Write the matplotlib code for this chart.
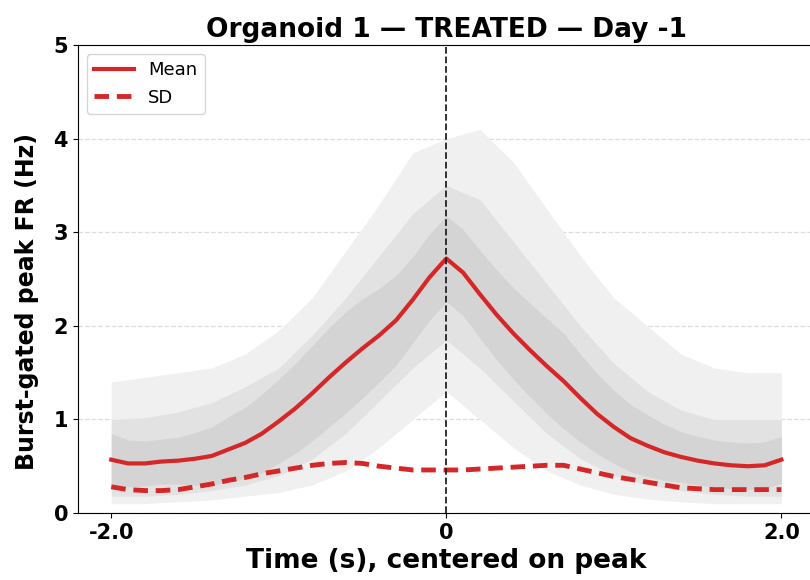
import matplotlib.pyplot as plt
import numpy as np

# time (s) relative to the burst peak, 0.1 s steps
t = [round(-2.0 + 0.1 * i, 1) for i in range(41)]

mean_fr = [0.57, 0.53, 0.53, 0.55, 0.56, 0.58, 0.61, 0.68, 0.75, 0.85,
           0.98, 1.12, 1.28, 1.45, 1.61, 1.76, 1.90, 2.06, 2.28, 2.52,
           2.72,
           2.57, 2.34, 2.12, 1.92, 1.74, 1.57, 1.41, 1.23, 1.06, 0.92,
           0.80, 0.72, 0.65, 0.60, 0.56, 0.53, 0.51, 0.50, 0.51, 0.57]
sd_fr = [0.28, 0.25, 0.24, 0.24, 0.25, 0.28, 0.31, 0.35, 0.38, 0.42,
         0.45, 0.48, 0.51, 0.53, 0.54, 0.53, 0.50, 0.48, 0.46, 0.46,
         0.46,
         0.46, 0.47, 0.48, 0.49, 0.50, 0.51, 0.51, 0.47, 0.43, 0.39,
         0.36, 0.33, 0.30, 0.27, 0.26, 0.25, 0.25, 0.25, 0.25, 0.25]

# grey cloud of single-burst traces, read at 0.2 s steps
t_env = [round(-2.0 + 0.2 * i, 1) for i in range(21)]
env_hi = [1.40, 1.45, 1.50, 1.55, 1.70, 1.95, 2.30, 2.80, 3.30, 3.85, 4.00,
          4.10, 3.75, 3.25, 2.75, 2.30, 2.00, 1.70, 1.55, 1.50, 1.50]
env_lo = [0.10, 0.10, 0.12, 0.14, 0.18, 0.22, 0.30, 0.45, 0.70, 1.00, 1.30,
          1.00, 0.70, 0.45, 0.30, 0.20, 0.15, 0.12, 0.10, 0.10, 0.10]
band_hi = [1.00, 1.02, 1.08, 1.18, 1.35, 1.55, 1.90, 2.30, 2.75, 3.20, 3.50,
           3.35, 2.90, 2.45, 2.00, 1.60, 1.30, 1.10, 1.00, 1.00, 1.00]
band_lo = [0.18, 0.18, 0.20, 0.24, 0.30, 0.40, 0.58, 0.85, 1.20, 1.55, 1.85,
           1.55, 1.20, 0.85, 0.58, 0.40, 0.30, 0.24, 0.20, 0.18, 0.18]

y_ticks = [0, 1, 2, 3, 4, 5]
x_ticks = [-2.0, 0.0, 2.0]
x_ticklabels = ['-2.0', '0', '2.0']

red = '#d62728'

fig = plt.figure(figsize=(8.1, 5.8), dpi=100)
ax = fig.add_axes([0.096, 0.1155, 0.91, 0.8065])

mean_a = np.array(mean_fr)
sd_a = np.array(sd_fr)
ax.fill_between(t_env, env_lo, env_hi, color='#f0f0f0', lw=0, zorder=1)
ax.fill_between(t_env, band_lo, band_hi, color='#e2e2e2', lw=0, zorder=2)
ax.fill_between(t, mean_a - sd_a, mean_a + sd_a, color='#d4d4d4', lw=0, zorder=3)

ax.plot(t, mean_fr, color=red, lw=3, label='Mean', zorder=5)
ax.plot(t, sd_fr, color=red, lw=3.5, ls='--', dashes=(3, 1.6), label='SD', zorder=5)

ax.axvline(0, color='#222222', ls='--', lw=1.3, zorder=6)

ax.set_xlim(-2.2, 2.2)
ax.set_ylim(0, 5)
ax.set_yticks(y_ticks)
ax.set_xticks(x_ticks)
ax.set_xticklabels(x_ticklabels)
for lab in ax.get_xticklabels() + ax.get_yticklabels():
    lab.set_fontweight('bold')
    lab.set_fontsize(15)
ax.yaxis.grid(True, ls='--', color='#dddddd', lw=0.9)
ax.set_axisbelow(True)

ax.set_title('Organoid 1 \u2014 TREATED \u2014 Day -1', fontsize=19, fontweight='bold')
ax.set_xlabel('Time (s), centered on peak', fontsize=19, fontweight='bold')
ax.set_ylabel('Burst-gated peak FR (Hz)', fontsize=17, fontweight='bold')
ax.yaxis.set_label_coords(-0.052, 0.453)

ax.legend(loc='upper left', fontsize=13, handlelength=2.2)

fig.savefig('out.png', dpi=100)
